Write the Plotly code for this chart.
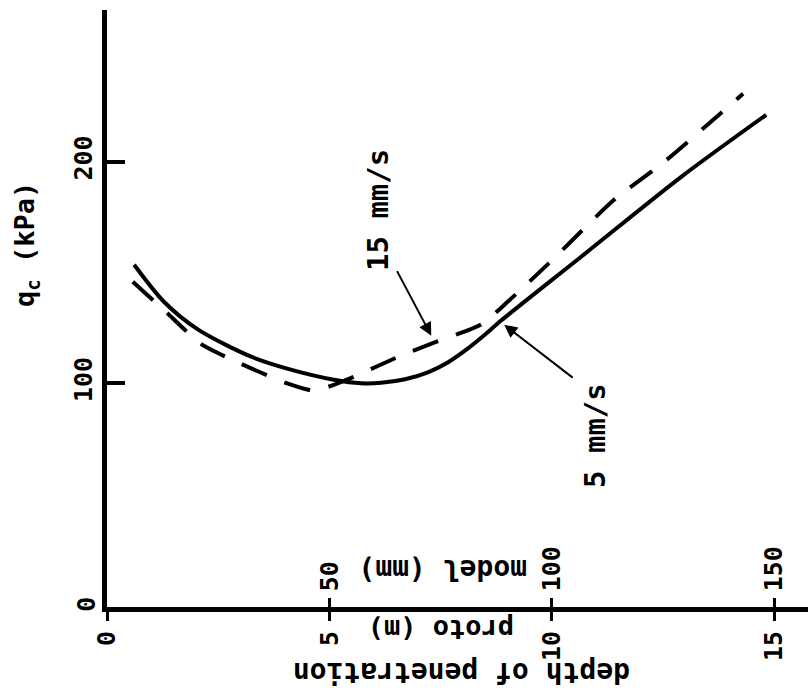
import plotly.graph_objects as go

# Cone resistance q_c (kPa) against penetration depth (prototype scale, m)
depth_5 = [0.61, 1.28, 2.05, 3.24, 4.07, 5.10, 5.71, 6.16, 6.70, 7.20, 7.67, 8.10, 8.50, 8.86, 10.66, 12.91, 14.82]
qc_5 = [153.5, 136.8, 124.2, 112.0, 106.5, 101.6, 100.0, 100.2, 101.8, 104.8, 109.5, 115.5, 122.0, 128.3, 157.1, 193.2, 221.2]

depth_15 = [0.58, 1.37, 2.11, 3.01, 4.07, 4.65, 5.10, 5.55, 6.61, 7.44, 8.41, 9.02, 9.92, 11.40, 12.53, 14.30]
qc_15 = [145.8, 131.4, 117.8, 108.8, 99.8, 96.6, 99.3, 102.9, 112.5, 119.0, 126.5, 137.0, 153.9, 182.8, 200.0, 230.7]

proto_ticks = [0, 5, 10, 15]
model_ticks = [50, 100, 150]
qc_ticks = [0, 100, 200]

FONT = "DejaVu Sans Mono"
W, H = 808, 698
ML, MR, MT, MB = 107, 0, 10, 91


def px(x, y):
    """Pixel position on the page -> paper coordinates."""
    return (x - ML) / (W - ML - MR), (H - MB - y) / (H - MT - MB)


def tfont(size):
    return dict(family=FONT, size=size, color="black", weight="bold")


fig = go.Figure()
fig.add_trace(go.Scatter(x=depth_5, y=qc_5, mode="lines",
                         line=dict(color="black", width=4, shape="spline", smoothing=0.8),
                         showlegend=False, hoverinfo="skip"))
fig.add_trace(go.Scatter(x=depth_15, y=qc_15, mode="lines",
                         line=dict(color="black", width=4, dash="27px,19px", shape="spline", smoothing=0.6),
                         showlegend=False, hoverinfo="skip"))
# invisible trace carrying the model-scale axis
fig.add_trace(go.Scatter(x=[0, 157.6], y=[None, None], xaxis="x2", mode="lines", showlegend=False, hoverinfo="skip"))

fig.update_layout(
    width=W, height=H,
    margin=dict(l=ML, r=MR, t=MT, b=MB),
    paper_bgcolor="white", plot_bgcolor="white",
    font=dict(family=FONT, color="black"),
    xaxis=dict(range=[0, 15.76], showgrid=False, zeroline=False, showline=True, linecolor="black", linewidth=5,
               tickvals=proto_ticks, ticktext=[str(v) for v in proto_ticks], ticks="outside", ticklen=9,
               tickwidth=3, tickcolor="black", tickangle=-90, tickfont=tfont(25)),
    xaxis2=dict(range=[0, 157.6], overlaying="x", anchor="y", side="bottom", showgrid=False, zeroline=False,
                showline=False, tickvals=model_ticks, ticks="inside", ticklen=9, tickwidth=3, tickcolor="black",
                ticklabelposition="inside", tickangle=-90, tickfont=tfont(25)),
    yaxis=dict(range=[-1, 268.5], showgrid=False, zeroline=False, showline=True, linecolor="black", linewidth=5,
               tickvals=qc_ticks, ticks="inside", ticklen=18, tickwidth=4, tickcolor="black", tickangle=-90,
               tickfont=tfont(25)),
)

texts = [
    ("q<sub>c</sub> (kPa)", 27, 245, -90, 27),
    ("model (mm)", 443, 570, 180, 28),
    ("proto (m)", 441, 630, 180, 27),
    ("depth of penetration", 462, 673, 180, 28),
    ("15 mm/s", 378, 210, -90, 29),
    ("5 mm/s", 595, 436, -90, 29),
]
for t, x, y, ang, sz in texts:
    xp, yp = px(x, y)
    fig.add_annotation(text=t, x=xp, y=yp, xref="paper", yref="paper", showarrow=False, textangle=ang,
                       xanchor="center", yanchor="middle", font=tfont(sz))

# origin label of the q_c axis (the tick label there is suppressed next to the model-scale labels)
fig.add_annotation(text="0", x=px(87, 0)[0], y=0, xref="paper", yref="y", showarrow=False, textangle=-90,
                   xanchor="center", yanchor="middle", font=tfont(25))

# arrows pointing at the two curves
fig.add_annotation(x=7.29, y=121.5, xref="x", yref="y", ax=-35, ay=-66, axref="pixel", ayref="pixel", text="",
                   showarrow=True, arrowhead=2, arrowsize=1.3, arrowwidth=2, arrowcolor="black", standoff=0)
fig.add_annotation(x=8.93, y=126.4, xref="x", yref="y", ax=70, ay=54, axref="pixel", ayref="pixel", text="",
                   showarrow=True, arrowhead=2, arrowsize=1.3, arrowwidth=2, arrowcolor="black", standoff=0)

fig.write_html("out.html")
